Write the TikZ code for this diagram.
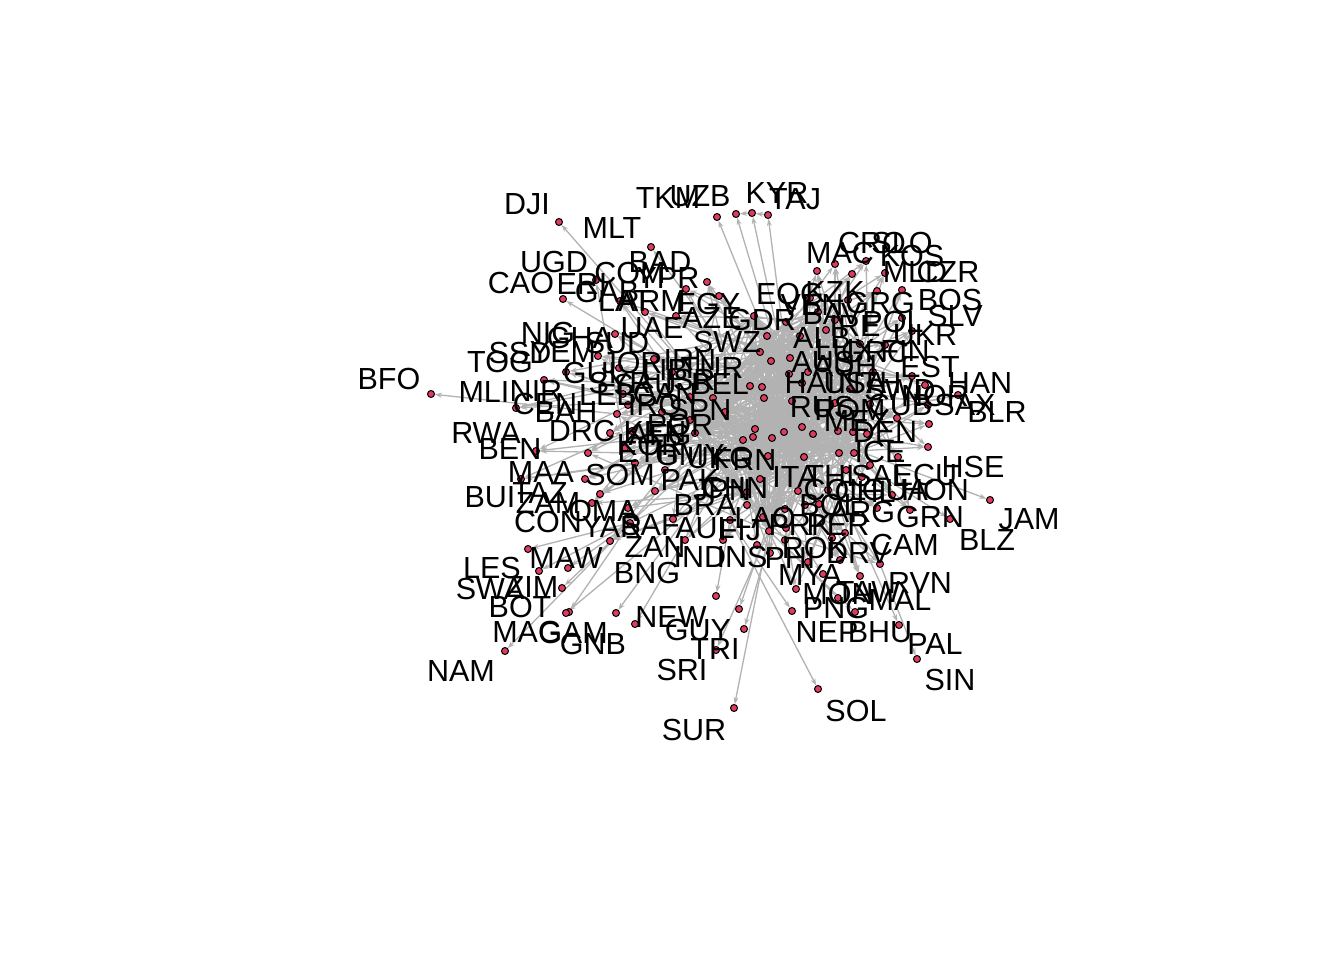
\documentclass[tikz,border=0pt]{standalone}
\usepackage{fontspec}
\setmainfont{Liberation Sans}
\usetikzlibrary{arrows.meta}

\definecolor{vfill}{RGB}{222,60,95}
\definecolor{egray}{RGB}{178,178,178}

\pgfdeclarelayer{bg}
\pgfdeclarelayer{edges}
\pgfdeclarelayer{fg}
\pgfsetlayers{bg,edges,main,fg}

\tikzset{
  vtx/.style={circle, draw=black, line width=1pt, fill=vfill, inner sep=0pt, minimum size=7pt},
  lab/.style={inner sep=0pt, font=\fontsize{30.5}{30.5}\selectfont},
  edg/.style={draw=egray, line width=1.3pt, -{Stealth[length=7pt,width=5pt]}},
}

% dense core: name/x/y/label x/label y
\def\corelist{RUS/792/401/822/407, FRN/784/432/745/460, UKG/802/427/720/458,
  USA/813/434/855/383, GMY/838/431/690/455, ITA/804/457/795/477,
  CHN/760/479/735/488, JPN/763/517/722/490, SPN/755/429/700/410,
  POR/743/440/680/425, NTH/850/389/870/383, BEL/764/398/720/384,
  SWZ/767/336/727/342, AUS/808/372/823/362, AUH/789/374/845/366,
  HAI/802/383/810/383, ROM/835/403/850/410, MEX/870/404/857/421,
  CAN/772/438/665/394, TUR/768/456/712/368, IRN/753/437/690/360,
  IRQ/695/433/655/408, SAU/690/420/645/385, ISR/760/352/690/380,
  JOR/771/361/632/363, SYR/750/386/620/383, LEB/762/387/608/395,
  EGY/713/398/708/304, LIB/690/397/665/370, ALB/800/336/822/338,
  LUX/790/358/845/350, GRC/860/344/875/352, BAV/835/320/832/314,
  IRE/818/312/855/326, GDR/786/322/762/320, AZE/754/316/712/318,
  KOR/853/432/650/445, NOR/867/434/935/396, SWD/839/453/900/390,
  DEN/854/453/885/432, PAK/747/492/690/480, IND/769/531/700/557,
  THI/798/491/830/476, AFG/725/412/660/435}

% ring round the core
\def\ringlist{NIG/598/356/548/333, GHA/619/368/580/338, SUD/654/359/617/343,
  UAE/672/372/652/328, TOG/544/380/500/362, SSD/566/372/520/353,
  YEM/628/405/563/352, MLI/516/408/484/392, NIR/617/414/536/391,
  CEN/662/412/545/404, GUI/623/394/590/373, BAH/632/431/566/412,
  RWA/536/451/486/433, DRC/610/433/582/431, BEN/588/453/510/449,
  MAA/585/479/541/472, BUI/521/479/490/497, TAZ/600/494/540/493,
  KEN/625/448/655/432, ETH/635/463/648/452, SOM/665/470/620/475,
  OMA/655/491/603/511, CON/592/503/548/522, ZAM/628/508/548/503,
  YAR/610/541/612/527, SAF/630/523/650/525, ZAN/673/519/655/547,
  BNG/685/540/647/573, BRA/747/505/705/505, AUL/730/520/705/528,
  FIJ/723/540/740/530,
  COM/676/316/630/273, YPR/707/282/668/278, BAD/686/289/660/262,
  ARM/719/296/652/301, LAT/615/334/625/301, ERI/620/301/582/284,
  GAB/645/312/607/292, KZK/877/291/835/292, EQG/810/298/790/297,
  VEN/826/330/812/305, GRG/848/300/880/303,
  MAC/817/271/840/253, CRO/835/264/872/243, SLO/866/261/902/243,
  MLD/852/274/915/272, KOS/885/273/912/256, CZR/902/290/948/272,
  BOS/902/318/950/300, SLV/912/331/955/316, POL/873/372/893/322,
  UKR/912/376/925/335, FIN/885/345/905/351, EST/925/385/930/367,
  HAN/958/395/980/383, BLR/929/424/997/412, SAX/928/405/965/405,
  CUB/897/418/900/405,
  ICE/898/457/880/452, HSE/928/447/973/467, SAL/870/465/880/476,
  ECU/862/477/925/475, GUA/892/495/895/490, HON/877/508/935/490,
  COL/828/490/835/490, CHL/846/470/865/492, BOL/819/504/830/505,
  ARG/805/505/862/512, PER/786/528/838/525, GRN/910/510/930/517,
  DRV/832/538/858/553, CAM/845/533/905/545, ROK/785/509/815/548,
  PRK/770/553/800/525, LAO/785/540/765/518, INS/757/545/742/557,
  PHI/808/562/790/558, MAL/880/564/900/600, RVN/860/576/920/583,
  MYA/796/589/810/575, TAW/840/560/868/592}

% outer vertices: name/x/y/label x/label y/source
\def\outerlist{DJI/559/222/527/204/EGY, MLT/651/247/612/228/ITA,
  TKM/717/217/668/198/RUS, UZB/736/214/700/196/RUS,
  KYR/752/213/777/193/RUS, TAJ/768/215/795/199/RUS,
  UGD/596/280/554/262/KEN, CAO/563/299/521/283/FRN,
  BFO/431/394/389/379/FRN,
  LES/528/549/492/568/SAF, SWA/539/571/490/589/SAF,
  MAW/568/568/566/558/SAF, ZIM/562/588/532/587/SAF,
  BOT/569/612/520/607/SAF, MAG/566/613/527/632/FRN,
  NAM/505/651/461/671/SAF, GAM/616/613/573/633/POR,
  GNB/635/624/593/644/POR, NEW/716/596/671/617/AUL,
  GUY/739/609/698/630/UKG, TRI/744/629/715/649/UKG,
  SRI/716/650/682/670/IND, SUR/734/708/694/730/IND,
  PNG/792/611/836/608/AUL, SOL/818/689/856/711/AUL,
  MON/823/574/838/594/CHN, NEP/838/598/827/632/IND,
  BHU/855/612/880/632/IND, PAL/899/625/935/644/USA,
  SIN/917/659/950/680/MAL, JAM/990/500/1029/519/USA,
  BLZ/950/519/987/540/UKG}

\begin{document}
\begin{tikzpicture}[x=1pt,y=-1pt]
\begin{pgfonlayer}{bg}
  \fill[white] (0,0) rectangle (1344,960);
\end{pgfonlayer}
\useasboundingbox (0,0) rectangle (1344,960);

% vertices
\foreach \nm/\x/\y/\lx/\ly [count=\i] in \corelist
  \node[vtx, alias=c\i] (\nm) at (\x,\y) {};
\foreach \nm/\x/\y/\lx/\ly in \ringlist
  \node[vtx] (\nm) at (\x,\y) {};
\foreach \nm/\x/\y/\lx/\ly/\src in \outerlist
  \node[vtx] (\nm) at (\x,\y) {};

% labels on top
\begin{pgfonlayer}{fg}
\foreach \nm/\x/\y/\lx/\ly in \corelist
  \node[lab] (t-\nm) at (\lx,\ly) {\nm};
\foreach \nm/\x/\y/\lx/\ly in \ringlist
  \node[lab] (t-\nm) at (\lx,\ly) {\nm};
\foreach \nm/\x/\y/\lx/\ly/\src in \outerlist
  \node[lab] (t-\nm) at (\lx,\ly) {\nm};
\end{pgfonlayer}

% edges
\begin{pgfonlayer}{edges}
\pgfmathsetseed{1344}
\foreach \i in {1,...,44}{
  \foreach \k in {1,...,11}{
    \pgfmathrandominteger{\j}{1}{44}
    \ifnum\j=\i\else\draw[edg] (c\i) -- (c\j);\fi
  }
}
\foreach \nm/\x/\y/\lx/\ly in \ringlist{
  \foreach \k in {1,2,3}{
    \pgfmathrandominteger{\j}{1}{44}
    \draw[edg] (c\j) -- (\nm);
  }
}
\foreach \nm/\x/\y/\lx/\ly/\src in \outerlist
  \draw[edg] (\src) -- (\nm);
\draw[edg] (TAJ) -- (KYR);
\draw[edg] (KYR) -- (UZB);
\end{pgfonlayer}
\end{tikzpicture}
\end{document}
